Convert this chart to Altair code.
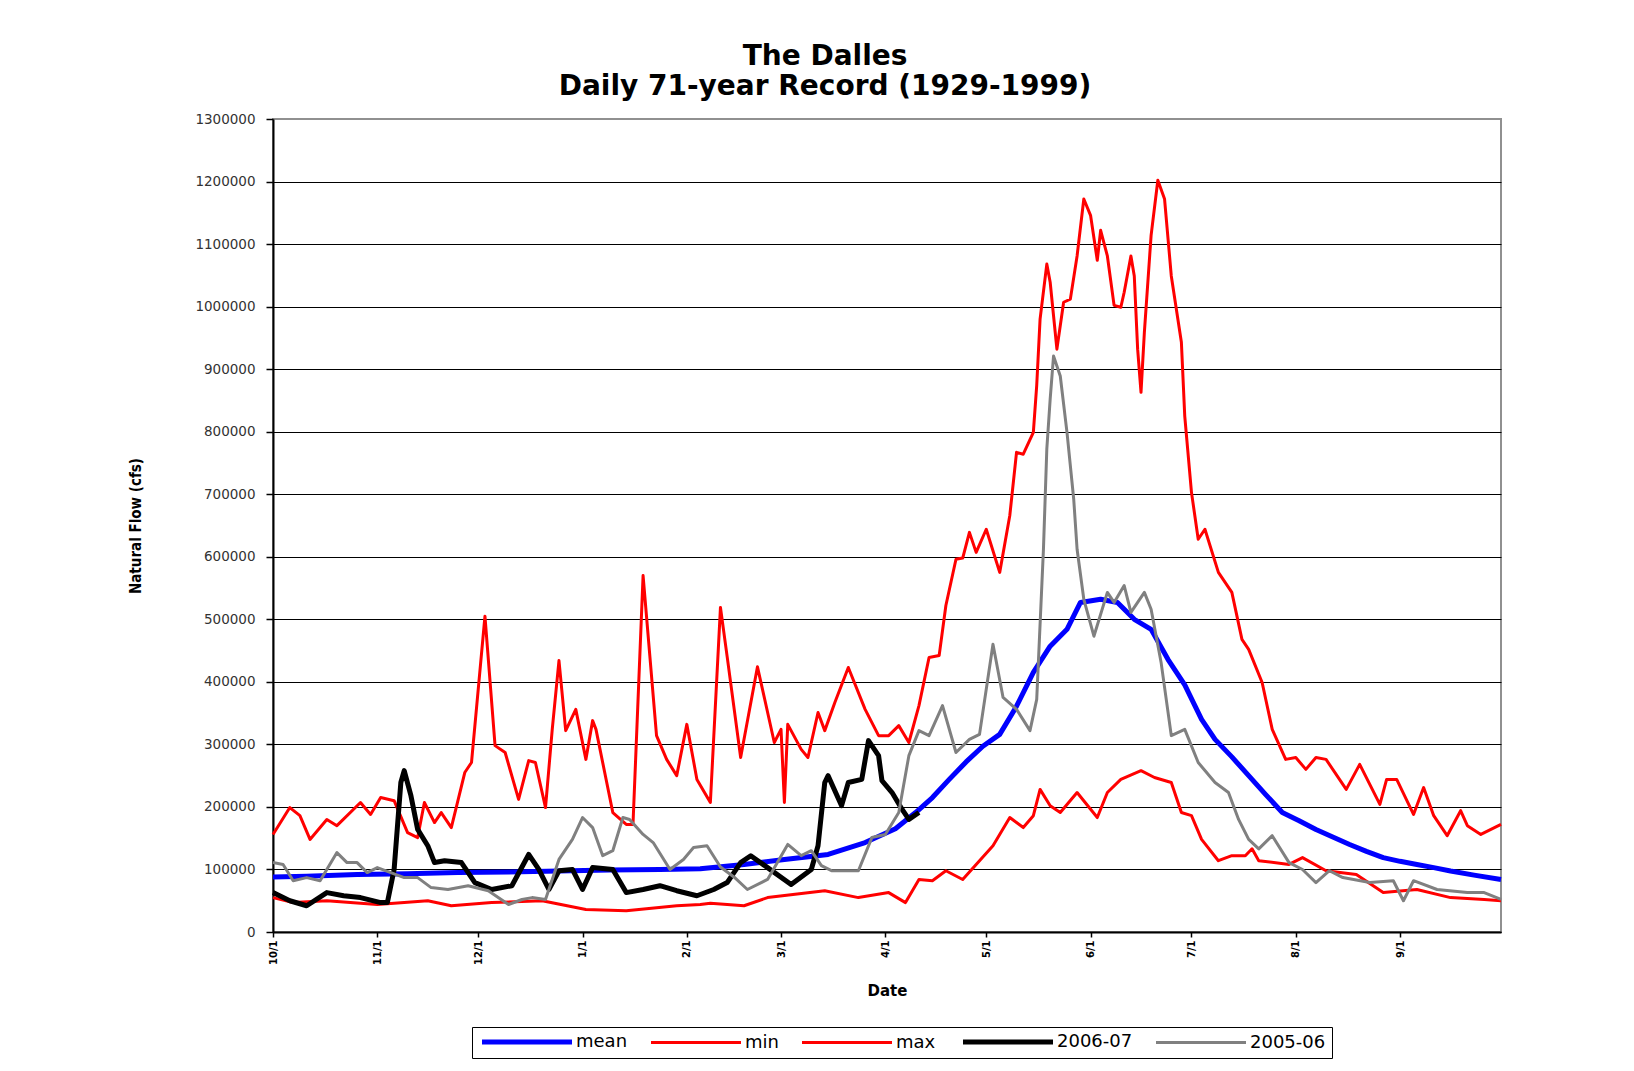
import altair as alt
import pandas as pd

# ---- axis ticks / labels ----
month_days = [0, 31, 61, 92, 123, 151, 182, 212, 243, 273, 304, 335]
month_labels = ["10/1", "11/1", "12/1", "1/1", "2/1", "3/1", "4/1", "5/1", "6/1", "7/1", "8/1", "9/1"]
y_ticks = [0, 100000, 200000, 300000, 400000, 500000, 600000, 700000, 800000,
           900000, 1000000, 1100000, 1200000, 1300000]

series_names = ["mean", "min", "max", "2006-07", "2005-06"]
series_colors = ["#0000FF", "#FF0000", "#FF0000", "#000000", "#808080"]
series_widths = [5, 3, 3, 5, 3]

# ---- series (day of water year starting 10/1, flow in cfs) ----
mean_days = [0, 10, 25, 40, 55, 70, 85, 100, 115, 127, 140, 152, 165, 176, 185, 191, 196, 201,
             206, 211, 216, 221, 226, 231, 236, 240, 246, 251, 256, 261, 266, 271, 276, 280,
             285, 290, 295, 300, 305, 310, 315, 320, 325, 330, 335, 340, 345, 350, 357, 365]
mean_vals = [88000, 89000, 92000, 93000, 95000, 96000, 97500, 99000, 100000, 101000, 108000,
             116000, 124000, 143000, 165000, 191000, 215000, 244000, 272000, 297000, 316000,
             361000, 415000, 457000, 484000, 527000, 532000, 527000, 500000, 484000, 436000,
             395000, 340000, 308000, 280000, 250000, 220000, 191000, 178000, 164000, 152000,
             140000, 129000, 119000, 113000, 108000, 103000, 97500, 91000, 84000]

min_days = [0, 6, 16, 31, 46, 53, 65, 80, 93, 105, 120, 127, 130, 140, 147, 164, 174, 183, 188,
            192, 196, 200, 205, 209, 214, 219, 223, 226, 228, 231, 234, 239, 245, 248, 252, 258,
            262, 267, 270, 273, 276, 281, 285, 289, 291, 293, 302, 306, 313, 322, 330, 340, 350,
            360, 365]
min_vals = [55000, 47000, 50000, 44000, 50000, 42000, 47000, 50000, 36000, 34000, 42000, 44000,
            46000, 42000, 55000, 66000, 55000, 63000, 47000, 84000, 82000, 98000, 84000, 108000,
            138000, 183000, 167000, 186000, 228000, 202000, 191000, 223000, 183000, 223000,
            244000, 258000, 247000, 239000, 191000, 186000, 148000, 114000, 122000, 122000,
            133000, 114000, 108000, 119000, 98000, 92000, 63000, 68000, 55000, 52000, 50000]

max_days = [0, 5, 8, 11, 16, 19, 26, 29, 32, 36, 40, 43, 45, 48, 50, 53, 57, 59, 63, 66, 69, 73,
            76, 78, 81, 83, 85, 87, 90, 93, 95, 96, 101, 105, 107, 110, 114, 117, 120, 123, 126,
            130, 133, 135, 139, 144, 149, 151, 152, 153, 157, 159, 162, 164, 167, 171, 176, 180,
            183, 186, 189, 192, 195, 198, 200, 203, 205, 207, 209, 212, 216, 219, 221, 223, 226,
            227, 228, 230, 231, 233, 235, 237, 239, 241, 243, 245, 246, 248, 250, 252, 253, 255,
            256, 257, 258, 259, 261, 263, 265, 267, 270, 271, 273, 275, 277, 281, 285, 288, 290,
            294, 297, 301, 304, 307, 310, 313, 319, 323, 329, 331, 334, 339, 342, 345, 349, 353,
            355, 359, 365]
max_vals = [156000, 199000, 186000, 148000, 180000, 170000, 207000, 188000, 215000, 210000,
            159000, 151000, 207000, 175000, 191000, 167000, 255000, 271000, 505000, 298000,
            287000, 212000, 274000, 271000, 199000, 324000, 434000, 322000, 356000, 276000,
            338000, 324000, 191000, 172000, 172000, 570000, 314000, 276000, 250000, 332000,
            244000, 207000, 519000, 440000, 279000, 424000, 303000, 324000, 207000, 332000,
            292000, 279000, 351000, 322000, 367000, 423000, 356000, 314000, 314000, 330000,
            303000, 362000, 439000, 442000, 522000, 596000, 598000, 639000, 607000, 644000,
            575000, 666000, 767000, 764000, 799000, 874000, 980000, 1068000, 1039000, 932000,
            1007000, 1012000, 1081000, 1172000, 1146000, 1074000, 1122000, 1081000, 1002000,
            999000, 1023000, 1081000, 1049000, 932000, 863000, 959000, 1114000, 1202000,
            1172000, 1049000, 943000, 825000, 703000, 628000, 644000, 575000, 543000, 468000,
            452000, 399000, 324000, 276000, 279000, 260000, 279000, 276000, 228000, 268000,
            204000, 244000, 244000, 188000, 231000, 186000, 154000, 194000, 170000, 156000,
            172000]

y0607_days = [0, 5, 10, 16, 21, 26, 32, 34, 36, 38, 39, 41, 43, 46, 48, 51, 56, 60, 65, 71, 76,
              79, 82, 85, 89, 92, 95, 101, 105, 110, 115, 120, 126, 131, 135, 139, 142, 147, 154,
              160, 162, 164, 165, 169, 171, 175, 177, 180, 181, 184, 187, 189, 192]
y0607_vals = [63000, 50000, 42000, 63000, 58000, 55000, 47000, 47000, 100000, 239000, 258000,
              218000, 164000, 138000, 111000, 114000, 111000, 79000, 68000, 74000, 124000,
              100000, 68000, 98000, 100000, 68000, 103000, 100000, 63000, 68000, 74000, 66000,
              58000, 68000, 79000, 111000, 122000, 103000, 76000, 100000, 138000, 239000, 250000,
              202000, 239000, 244000, 306000, 282000, 242000, 223000, 196000, 180000, 191000]

y0506_days = [0, 3, 6, 10, 14, 19, 22, 25, 28, 31, 35, 39, 43, 47, 52, 58, 64, 70, 74, 77, 81,
              85, 89, 92, 95, 98, 101, 104, 106, 110, 113, 118, 122, 125, 129, 133, 137, 141, 147,
              153, 157, 160, 163, 166, 174, 178, 182, 186, 189, 192, 195, 199, 203, 207, 210, 214,
              217, 221, 225, 227, 229, 230, 231, 232, 234, 236, 238, 239, 241, 244, 248, 250, 253,
              255, 259, 261, 264, 267, 271, 275, 280, 284, 287, 290, 293, 297, 302, 306, 310, 314,
              318, 326, 333, 336, 339, 346, 355, 360, 365]
y0506_vals = [111000, 108000, 82000, 87000, 82000, 127000, 111000, 111000, 95000, 103000, 95000,
              87000, 87000, 71000, 68000, 74000, 66000, 44000, 52000, 55000, 52000, 116000,
              148000, 183000, 167000, 122000, 130000, 183000, 180000, 156000, 143000, 100000,
              116000, 135000, 138000, 104000, 88000, 68000, 84000, 140000, 122000, 130000,
              106000, 98000, 98000, 151000, 156000, 191000, 282000, 322000, 314000, 362000,
              287000, 308000, 316000, 460000, 375000, 356000, 322000, 372000, 612000, 772000,
              852000, 921000, 889000, 799000, 692000, 612000, 532000, 473000, 543000, 527000,
              554000, 511000, 543000, 516000, 430000, 314000, 324000, 271000, 239000, 223000,
              180000, 148000, 133000, 154000, 111000, 100000, 79000, 98000, 87000, 79000, 82000,
              50000, 82000, 68000, 63000, 63000, 52000]

all_days = [mean_days, min_days, max_days, y0607_days, y0506_days]
all_vals = [mean_vals, min_vals, max_vals, y0607_vals, y0506_vals]

frames = []
for name, d, v in zip(series_names, all_days, all_vals):
    frames.append(pd.DataFrame({"day": d, "flow": v, "series": name}))
df = pd.concat(frames, ignore_index=True)

days_js = "[" + ",".join(str(d) for d in month_days) + "]"
labels_js = "[" + ",".join("'" + s + "'" for s in month_labels) + "]"
x_label_expr = labels_js + "[indexof(" + days_js + ", datum.value)]"

legend_def = alt.Legend(
    title=None, orient="none", legendX=199, legendY=908, direction="horizontal",
    symbolType="M-1,0H17", symbolSize=100, labelOffset=80,
    labelFont="DejaVu Sans", labelFontSize=18, labelColor="black",
    columnPadding=17, strokeColor="black", padding=6, fillColor="white",
)

x_enc = alt.X(
    "day:Q",
    scale=alt.Scale(domain=[0, 365], nice=False, zero=False),
    axis=alt.Axis(
        values=month_days, labelExpr=x_label_expr, labelAngle=270,
        labelFont="DejaVu Sans", labelFontSize=10, labelFontWeight="bold", labelColor="black",
        labelPadding=3, tickSize=5, tickColor="black", tickWidth=1.5,
        domainColor="black", domainWidth=2, grid=False,
        title="Date", titleFont="DejaVu Sans", titleFontSize=15, titleFontWeight="bold",
        titleColor="black", titleX=614, titleY=58, titleAlign="center", titleBaseline="middle",
    ),
)
y_enc = alt.Y(
    "flow:Q",
    scale=alt.Scale(domain=[0, 1300000], nice=False),
    axis=alt.Axis(
        values=y_ticks, format="d",
        labelFont="DejaVu Sans", labelFontSize=13.5, labelColor="#333333", labelPadding=11,
        tickSize=7, tickColor="black", tickWidth=1.5,
        domainColor="black", domainWidth=2,
        grid=True,
        gridColor=alt.condition(alt.datum.value == 1300000, alt.value("#909090"), alt.value("#000000")),
        gridWidth=1.2,
        title="Natural Flow (cfs)", titleFont="DejaVu Sans Condensed, DejaVu Sans",
        titleFontSize=15, titleFontWeight="bold", titleColor="black",
        titleAngle=270, titleX=-138, titleY=406.5, titleAlign="center", titleBaseline="middle",
    ),
)
color_enc = alt.Color("series:N", scale=alt.Scale(domain=series_names, range=series_colors),
                      legend=legend_def)
width_enc = alt.StrokeWidth("series:N",
                            scale=alt.Scale(type="ordinal", domain=series_names, range=series_widths),
                            legend=legend_def)

layers = []
for name in series_names:
    layers.append(
        alt.Chart(df)
        .transform_filter(alt.datum.series == name)
        .mark_line(strokeJoin="round", strokeCap="butt")
        .encode(x=x_enc, y=y_enc, color=color_enc, strokeWidth=width_enc)
    )

chart = (
    alt.layer(*layers)
    .properties(
        width=1228,
        height=813,
        title=alt.TitleParams(
            ["The Dalles", "Daily 71-year Record (1929-1999)"],
            font="DejaVu Sans", fontSize=28, fontWeight="bold", lineHeight=30,
            color="black", anchor="middle", dx=-62, offset=11,
        ),
        padding={"left": 265, "top": 111, "right": 120, "bottom": 130},
        autosize=alt.AutoSizeParams(type="none"),
        background="white",
    )
    .configure_view(stroke="#909090", strokeWidth=2)
)

chart.save("out.html", embed_options={"renderer": "svg", "actions": False})
